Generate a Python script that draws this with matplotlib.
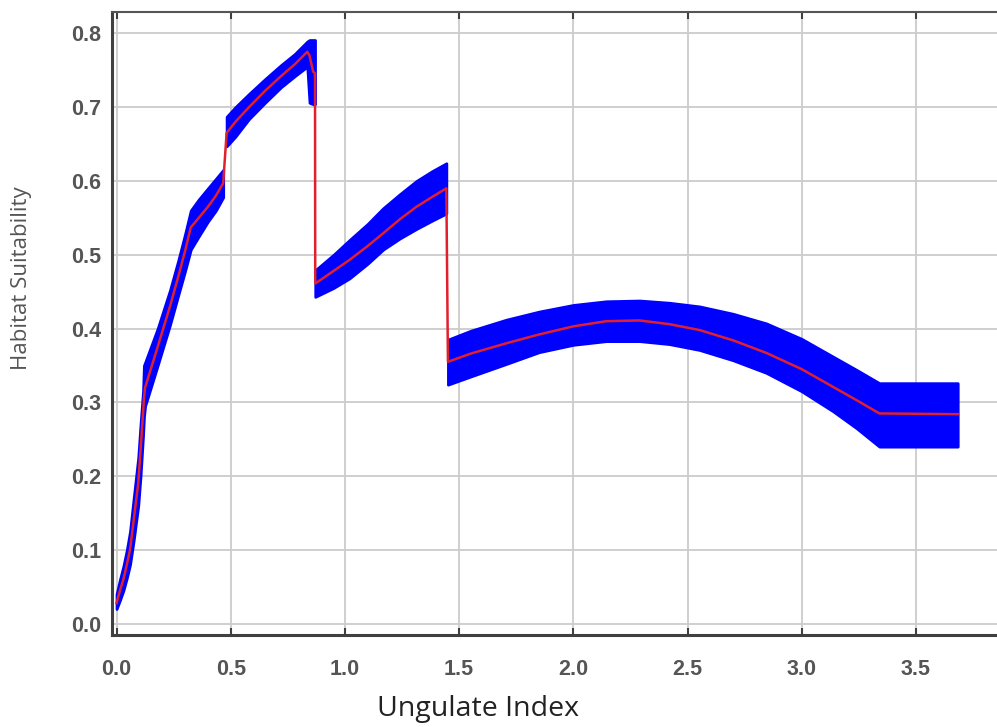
import matplotlib
matplotlib.use("Agg")
import matplotlib.pyplot as plt

# segment 1: steep rise from 0 to ~0.47
seg1_x = [0.0, 0.015, 0.03, 0.045, 0.059, 0.075, 0.095, 0.105, 0.116, 0.12,
          0.125, 0.18, 0.234, 0.27, 0.30, 0.325, 0.36, 0.40, 0.435, 0.467]
seg1_mid = [0.028, 0.045, 0.06, 0.08, 0.10, 0.14, 0.19, 0.235, 0.285, 0.305,
            0.32, 0.375, 0.43, 0.47, 0.505, 0.537, 0.55, 0.565, 0.58, 0.597]
seg1_hi = [0.04, 0.06, 0.078, 0.10, 0.125, 0.17, 0.225, 0.27, 0.315, 0.35,
           0.354, 0.40, 0.452, 0.492, 0.528, 0.56, 0.575, 0.59, 0.603, 0.615]
seg1_lo = [0.02, 0.032, 0.045, 0.062, 0.08, 0.113, 0.16, 0.2, 0.255, 0.28,
           0.295, 0.35, 0.405, 0.445, 0.478, 0.507, 0.525, 0.545, 0.56, 0.578]

# segment 2: 0.48 to 0.87
seg2_x = [0.482, 0.52, 0.58, 0.65, 0.72, 0.78, 0.835, 0.845, 0.861, 0.869]
seg2_mid = [0.665, 0.68, 0.70, 0.722, 0.742, 0.758, 0.775, 0.77, 0.748, 0.746]
seg2_hi = [0.687, 0.70, 0.718, 0.738, 0.757, 0.772, 0.789, 0.791, 0.791, 0.791]
seg2_lo = [0.647, 0.66, 0.684, 0.706, 0.727, 0.742, 0.755, 0.706, 0.704, 0.704]

# segment 3: 0.87 to 1.44
seg3_x = [0.87, 0.95, 1.02, 1.1, 1.167, 1.24, 1.313, 1.38, 1.444]
seg3_mid = [0.461, 0.478, 0.493, 0.512, 0.529, 0.548, 0.565, 0.578, 0.590]
seg3_hi = [0.479, 0.50, 0.52, 0.542, 0.563, 0.582, 0.60, 0.613, 0.624]
seg3_lo = [0.443, 0.455, 0.468, 0.488, 0.507, 0.522, 0.535, 0.546, 0.556]

# segment 4: 1.45 to 3.69
seg4_x = [1.451, 1.55, 1.706, 1.85, 2.0, 2.144, 2.29, 2.42, 2.553, 2.7,
          2.845, 3.0, 3.137, 3.24, 3.34, 3.683]
seg4_mid = [0.355, 0.366, 0.380, 0.392, 0.403, 0.410, 0.411, 0.406, 0.398, 0.384,
            0.367, 0.345, 0.321, 0.303, 0.285, 0.284]
seg4_hi = [0.385, 0.397, 0.412, 0.423, 0.432, 0.437, 0.438, 0.435, 0.430, 0.420,
           0.407, 0.386, 0.362, 0.344, 0.326, 0.326]
seg4_lo = [0.324, 0.335, 0.352, 0.368, 0.378, 0.383, 0.383, 0.379, 0.371, 0.357,
           0.340, 0.315, 0.288, 0.265, 0.240, 0.240]

x_ticks = [0.0, 0.5, 1.0, 1.5, 2.0, 2.5, 3.0, 3.5]
y_ticks = [0.0, 0.1, 0.2, 0.3, 0.4, 0.5, 0.6, 0.7, 0.8]

fig = plt.figure(figsize=(9.97, 7.27), dpi=100)
ax = fig.add_axes([0.1123, 0.1265, 0.8877, 0.857])

segments = [
    (seg1_x, seg1_lo, seg1_hi),
    (seg2_x, seg2_lo, seg2_hi),
    (seg3_x, seg3_lo, seg3_hi),
    (seg4_x, seg4_lo, seg4_hi),
]
for xs, lo, hi in segments:
    ax.fill_between(xs, lo, hi, color='#0000ff', edgecolor='#0000ff',
                    linewidth=2, zorder=2)

# mean line is one continuous trace
mid_x = seg1_x + seg2_x + seg3_x + seg4_x
mid_y = seg1_mid + seg2_mid + seg3_mid + seg4_mid
ax.plot(mid_x, mid_y, color='#e0202e', linewidth=1.8, zorder=3)

ax.set_xlim(-0.02, 3.855)
ax.set_ylim(-0.0153, 0.829)
ax.set_xticks(x_ticks)
ax.set_yticks(y_ticks)
ax.set_xticklabels([f'{v:.1f}' for v in x_ticks])
ax.set_yticklabels([f'{v:.1f}' for v in y_ticks])

ax.grid(True, color='#cccccc', linewidth=1.3)
ax.set_axisbelow(True)

for s in ['left', 'bottom']:
    ax.spines[s].set_color('#404040')
    ax.spines[s].set_linewidth(2.2)
ax.spines['top'].set_color('#555555')
ax.spines['top'].set_linewidth(1.5)
ax.spines['right'].set_visible(False)

ax.tick_params(axis='x', direction='in', length=5, width=1.5, color='#404040',
               top=True, pad=17, labelsize=15.5, labelcolor='#555555')
ax.tick_params(axis='y', direction='in', length=0, pad=8,
               labelsize=15.5, labelcolor='#555555')
for lbl in ax.get_xticklabels() + ax.get_yticklabels():
    lbl.set_fontfamily('Liberation Sans')
    lbl.set_fontweight('bold')

ax.set_xlabel('Ungulate Index', fontsize=20.5, color='#222222',
              fontfamily='Open Sans')
ax.xaxis.set_label_coords(0.414, -0.096)
ax.set_ylabel('Habitat Suitability', fontsize=16, color='#555555',
              fontfamily='Open Sans')
ax.yaxis.set_label_coords(-0.0904, 0.573)

fig.savefig('out.png', dpi=100)
